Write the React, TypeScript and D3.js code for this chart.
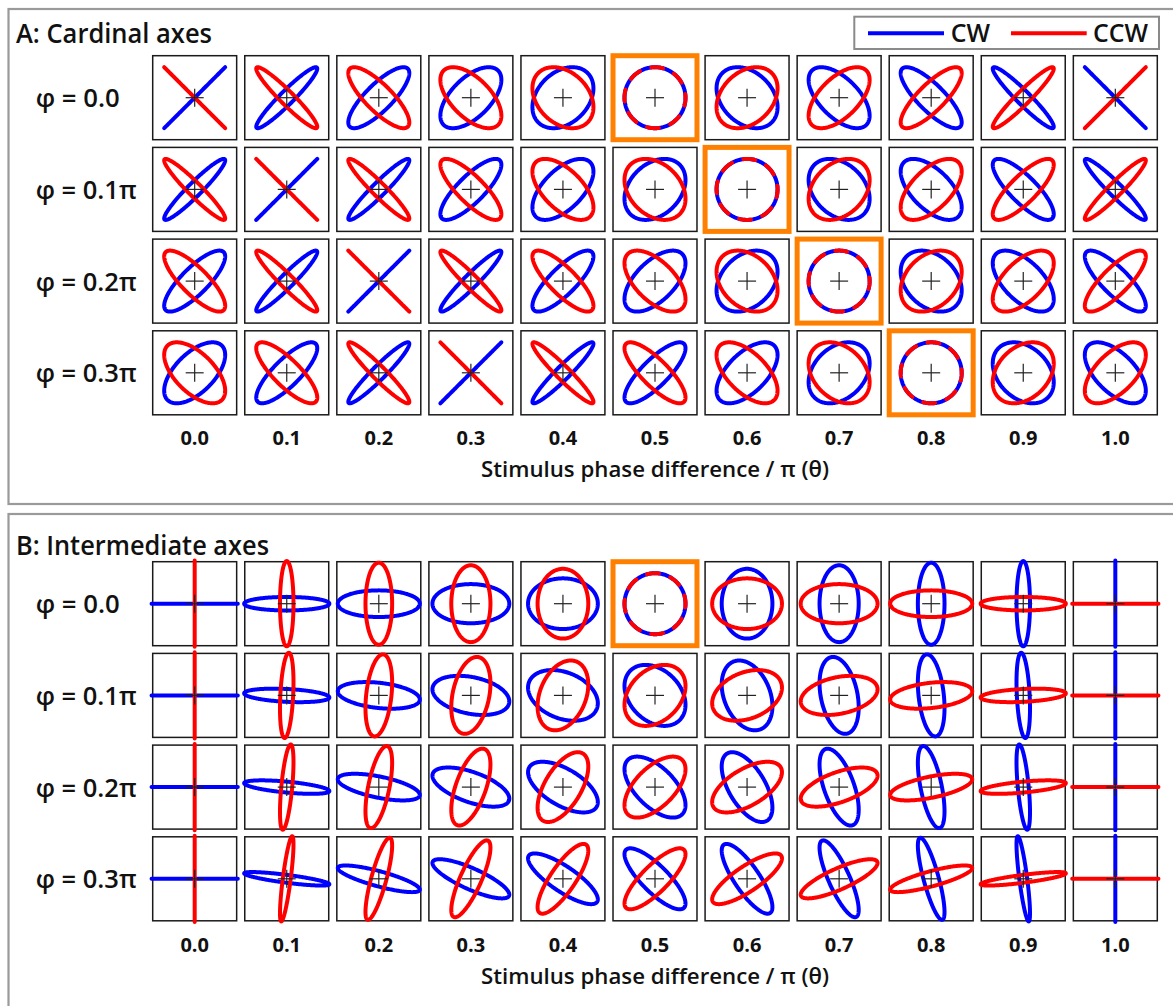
import React from "react";
import * as d3 from "d3";

// ---- data ----
const THETAS = [0.0, 0.1, 0.2, 0.3, 0.4, 0.5, 0.6, 0.7, 0.8, 0.9, 1.0]; // stimulus phase difference / π
const THETA_LABELS = ["0.0", "0.1", "0.2", "0.3", "0.4", "0.5", "0.6", "0.7", "0.8", "0.9", "1.0"];
const PHIS = [0.0, 0.1, 0.2, 0.3]; // φ / π
const PHI_LABELS = ["φ = 0.0", "φ = 0.1π", "φ = 0.2π", "φ = 0.3π"];
const HIGHLIGHT_A = [[0, 5], [1, 6], [2, 7], [3, 8]]; // [row, col] where CW and CCW coincide
const HIGHLIGHT_B = [[0, 5]];
const PANELS = [
  { key: "A", title: "A: Cardinal axes", highlight: HIGHLIGHT_A },
  { key: "B", title: "B: Intermediate axes", highlight: HIGHLIGHT_B },
];
const SERIES = [
  { key: "CW", color: "#0000ff" },
  { key: "CCW", color: "#ff0000" },
];

const FONT = "'Open Sans', 'Noto Sans', sans-serif";
const PI = Math.PI;
const T = d3.range(0, 241).map((i) => (i / 240) * 2 * PI);

// parametric trajectory of one perceived motion
function traj(panel: string, series: string, theta: number, phi: number) {
  const th = theta * PI;
  const ph = phi * PI;
  return T.map((t) => {
    if (panel === "A") {
      if (series === "CW") return [Math.cos(t), Math.cos(t + th - ph)];
      return [Math.cos(t), Math.cos(t + PI - th + ph)];
    }
    const r = Math.SQRT1_2;
    if (series === "CW")
      return [
        (Math.cos(t) + Math.cos(t + th)) * r,
        (Math.cos(t - ph) - Math.cos(t + th - ph)) * r,
      ];
    return [
      (Math.cos(t) - Math.cos(t - th)) * r,
      (Math.cos(t + ph) + Math.cos(t - th + ph)) * r,
    ];
  });
}

const W = 1173;
const H = 1006;
const PANEL_DY = 506;

export default function App() {
  const x = d3
    .scaleBand<string>()
    .domain(THETA_LABELS)
    .range([152.7, 1157.3])
    .paddingInner(0.088);
  const yA = d3
    .scaleBand<string>()
    .domain(PHI_LABELS)
    .range([55.7, 414.8])
    .paddingInner(0.084);
  const bw = x.bandwidth();
  const bh = yA.bandwidth();
  const amp = 30.5;

  return (
    <svg
      width={W}
      height={H}
      style={{ position: "absolute", left: 0, top: 0, background: "#fff" }}
      fontFamily={FONT}
    >
      <rect x={0} y={0} width={W} height={H} fill="#fff" />
      {PANELS.map((p, pi) => {
        const dy = pi * PANEL_DY;
        const hl = new Set(p.highlight.map(([r, c]) => `${r}-${c}`));
        return (
          <g key={p.key}>
            <rect
              x={8.5}
              y={9 + dy - (pi ? 1 : 0)}
              width={1180}
              height={pi ? 520 : 495}
              fill="none"
              stroke="#9a9a9a"
              strokeWidth={2.2}
            />
            <text
              x={16}
              y={43.3 + dy + (pi ? 6 : 0)}
              fontSize={27}
              fontWeight={600}
              textLength={pi ? 253 : 196}
              lengthAdjust="spacingAndGlyphs"
              fill="#111"
            >
              {p.title}
            </text>
            {PHI_LABELS.map((lab, ri) => {
              const top = (yA(lab) as number) + dy;
              return (
                <text
                  key={lab}
                  x={35.7}
                  y={top + bh / 2 + 9.5}
                  fontSize={26}
                  fontWeight={600}
                  textLength={ri === 0 ? 84 : 101}
                  lengthAdjust="spacingAndGlyphs"
                  fill="#111"
                >
                  {lab}
                </text>
              );
            })}
            {PHIS.map((phi, ri) =>
              THETAS.map((theta, ci) => {
                const left = x(THETA_LABELS[ci]) as number;
                const top = (yA(PHI_LABELS[ri]) as number) + dy;
                const cx = left + bw / 2;
                const cy = top + bh / 2;
                const sx = d3.scaleLinear().domain([-1, 1]).range([cx - amp, cx + amp]);
                const sy = d3.scaleLinear().domain([-1, 1]).range([cy + amp, cy - amp]);
                const line = d3
                  .line<number[]>()
                  .x((d) => sx(d[0]))
                  .y((d) => sy(d[1]))
                  .curve(d3.curveLinearClosed);
                const isHl = hl.has(`${ri}-${ci}`);
                return (
                  <g key={`${ri}-${ci}`}>
                    <rect
                      x={left}
                      y={top}
                      width={bw}
                      height={bh}
                      fill="#fff"
                      stroke={isHl ? "#ff8000" : "#1a1a1a"}
                      strokeWidth={isHl ? 5 : 1.5}
                    />
                    {SERIES.map((s, si) => (
                      <path
                        key={s.key}
                        d={line(traj(p.key, s.key, theta, phi) as number[][]) || ""}
                        fill="none"
                        stroke={s.color}
                        strokeWidth={4}
                        strokeLinejoin="round"
                        strokeLinecap="round"
                        strokeDasharray={isHl && si === 1 ? "12 12" : undefined}
                        strokeDashoffset={isHl && si === 1 ? 4 : undefined}
                      />
                    ))}
                    <line x1={cx - 9} x2={cx + 9} y1={cy} y2={cy} stroke="#222" strokeWidth={1.2} />
                    <line x1={cx} x2={cx} y1={cy - 9} y2={cy + 9} stroke="#222" strokeWidth={1.2} />
                  </g>
                );
              })
            )}
            {THETA_LABELS.map((lab) => (
              <text
                key={lab}
                x={(x(lab) as number) + bw / 2}
                y={445 + dy + (pi ? 1 : 0)}
                fontSize={20}
                fontWeight={700}
                textAnchor="middle"
                fill="#111"
              >
                {lab}
              </text>
            ))}
            <text
              x={(x("0.5") as number) + bw / 2}
              y={476.7 + dy + (pi ? 1 : 0)}
              fontSize={21.5}
              fontWeight={600}
              textAnchor="middle"
              textLength={348}
              lengthAdjust="spacingAndGlyphs"
              fill="#111"
            >
              Stimulus phase difference / π (θ)
            </text>
          </g>
        );
      })}
      {/* legend */}
      <g>
        <rect x={854.3} y={16.7} width={304.7} height={32.3} fill="#fff" stroke="#8a8a8a" strokeWidth={2} />
        <line x1={868} x2={944} y1={33.3} y2={33.3} stroke="#0000ff" strokeWidth={4} />
        <text x={950.7} y={41.7} fontSize={25} fontWeight={600} textLength={39.3} lengthAdjust="spacingAndGlyphs" fill="#111">
          CW
        </text>
        <line x1={1011} x2={1086.7} y1={33.3} y2={33.3} stroke="#ff0000" strokeWidth={4} />
        <text x={1093} y={41.7} fontSize={25} fontWeight={600} textLength={55} lengthAdjust="spacingAndGlyphs" fill="#111">
          CCW
        </text>
      </g>
    </svg>
  );
}
